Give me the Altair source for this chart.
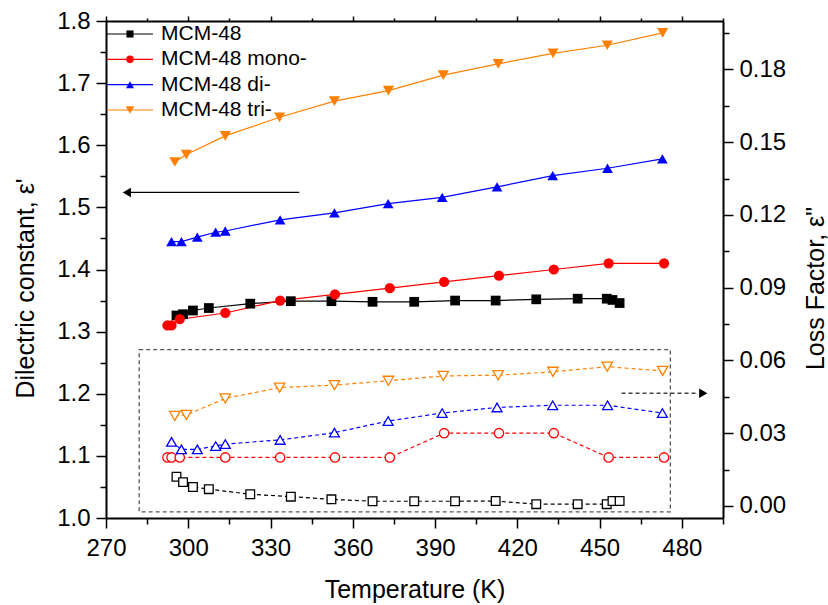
import altair as alt
import pandas as pd

FONT = "Liberation Sans"

series_names = ["MCM-48", "MCM-48 mono-", "MCM-48 di-", "MCM-48 tri-"]
series_colors = ["#000000", "#FF0000", "#0000FF", "#FF8000"]
series_shapes = ["square", "circle", "triangle-up", "triangle-down"]
marker_sizes = [95, 125, 160, 160]
open_sizes = [75, 110, 135, 135]
legend_sizes = [50, 75, 95, 95]

# MCM-48
temp_plain = [295.7, 298.1, 301.7, 307.5, 322.6, 337.4, 352.2, 367.2, 382.4, 397.3,
              412.1, 426.9, 442.0, 452.6, 454.7, 457.3]
eps_plain = [1.326, 1.328, 1.334, 1.338, 1.345, 1.349, 1.349, 1.348, 1.348, 1.350,
             1.350, 1.352, 1.353, 1.353, 1.351, 1.346]
loss_plain = [0.0120, 0.0098, 0.0078, 0.0069, 0.0048, 0.0038, 0.0027, 0.0019, 0.0019, 0.0019,
              0.0020, 0.0007, 0.0007, 0.0007, 0.0020, 0.0020]

# MCM-48 mono-
temp_mono = [292.4, 293.9, 296.9, 313.5, 333.5, 353.5, 373.5, 393.3, 413.3, 433.3, 453.3, 473.5]
eps_mono = [1.31, 1.31, 1.32, 1.33, 1.35, 1.36, 1.37, 1.38, 1.39, 1.40, 1.41, 1.41]
loss_mono = [0.02, 0.02, 0.02, 0.02, 0.02, 0.02, 0.02, 0.03, 0.03, 0.03, 0.02, 0.02]

# MCM-48 di-
temp_di = [293.9, 297.5, 303.3, 310.0, 313.5, 333.5, 353.3, 372.9, 392.6, 412.6, 432.9, 452.9, 472.9]
eps_di = [1.445, 1.445, 1.452, 1.460, 1.462, 1.480, 1.491, 1.506, 1.516, 1.533, 1.551, 1.563, 1.578]
loss_di = [0.0264, 0.0233, 0.0233, 0.0247, 0.0255, 0.0272, 0.0302, 0.0350, 0.0383, 0.0406,
           0.0415, 0.0415, 0.0383]

# MCM-48 tri-
temp_tri = [295.1, 299.3, 313.5, 333.3, 353.3, 373.0, 393.0, 413.0, 433.0, 452.8, 473.0]
eps_tri = [1.573, 1.585, 1.615, 1.645, 1.671, 1.688, 1.713, 1.731, 1.748, 1.761, 1.781]
loss_tri = [0.0371, 0.0375, 0.0443, 0.0488, 0.0498, 0.0516, 0.0536, 0.0539, 0.0553, 0.0574, 0.0557]

# axis ticks
x_ticks = [270, 285, 300, 315, 330, 345, 360, 375, 390, 405, 420, 435, 450, 465, 480, 495]
y_left_ticks = [1.0, 1.05, 1.1, 1.15, 1.2, 1.25, 1.3, 1.35, 1.4, 1.45, 1.5, 1.55, 1.6, 1.65,
                1.7, 1.75, 1.8]
y_right_ticks = [0.0, 0.015, 0.03, 0.045, 0.06, 0.075, 0.09, 0.105, 0.12, 0.135, 0.15,
                 0.165, 0.18, 0.195]

# annotations
box_temp = [282.1, 475.8]
box_eps = [1.010, 1.271]
left_arrow_temp = [340.5, 279.0]
left_arrow_head = [277.6]
left_arrow_eps = [1.524]
right_arrow_temp = [458.0, 486.0]
right_arrow_head = [487.8]
right_arrow_loss = [0.0465]

frames = []
for name, t, e, l in zip(series_names,
                         [temp_plain, temp_mono, temp_di, temp_tri],
                         [eps_plain, eps_mono, eps_di, eps_tri],
                         [loss_plain, loss_mono, loss_di, loss_tri]):
    frames.append(pd.DataFrame({"series": name, "T": t, "eps": e, "loss": l}))
df = pd.concat(frames, ignore_index=True)

xs = alt.Scale(domain=[270, 495], nice=False, zero=False)
ys_left = alt.Scale(domain=[1.0, 1.8], nice=False, zero=False)
ys_right = alt.Scale(domain=[-0.005, 0.2], nice=False, zero=False)
color_scale = alt.Scale(domain=series_names, range=series_colors)
shape_scale = alt.Scale(domain=series_names, range=series_shapes)

common_axis = dict(
    grid=False, domainColor="black", domainWidth=2, tickColor="black", tickWidth=1.5,
    labelFont=FONT, labelFontSize=24, labelColor="black",
    titleFont=FONT, titleFontSize=25, titleFontWeight="normal", titleColor="black",
)

bottom_axis = alt.Axis(
    orient="bottom", values=x_ticks, title="Temperature (K)",
    labelExpr="datum.value % 30 === 0 ? datum.label : ''",
    tickSize={"condition": {"test": "datum.value % 30 === 0", "value": 10}, "value": 6},
    labelPadding=8, titlePadding=17, labelFlush=False, labelOverlap=False, **common_axis)
top_axis = alt.Axis(
    orient="top", values=x_ticks, title=None, labels=False,
    tickSize={"condition": {"test": "datum.value % 30 === 0", "value": 5}, "value": 3},
    **common_axis)
left_axis = alt.Axis(
    orient="left", values=y_left_ticks, title="Dilectric constant, ε'",
    labelExpr="round(datum.value*100) % 10 === 0 ? format(datum.value, '.1f') : ''",
    tickSize={"condition": {"test": "round(datum.value*100) % 10 === 0", "value": 10}, "value": 6},
    labelPadding=6, titlePadding=18, titleY=267, labelFlush=False, labelOverlap=False, **common_axis)
right_axis = alt.Axis(
    orient="right", values=y_right_ticks, title="Loss Factor, ε\"", titleAngle=270,
    titleBaseline="top", titleY=267,
    labelExpr="round(datum.value*1000) % 30 === 0 ? format(datum.value, '.2f') : ''",
    tickSize={"condition": {"test": "round(datum.value*1000) % 30 === 0", "value": 10}, "value": 6},
    labelPadding=6, titlePadding=18, labelFlush=False, labelOverlap=False, **common_axis)

base = alt.Chart(df)
x_none = alt.X("T:Q", scale=xs, axis=None)
col = alt.Color("series:N", scale=color_scale, legend=None)
shp = alt.Shape("series:N", scale=shape_scale, legend=None)

# ---- dielectric constant
eps_lines = base.mark_line(strokeWidth=1.2).encode(
    x=alt.X("T:Q", scale=xs, axis=bottom_axis),
    y=alt.Y("eps:Q", scale=ys_left, axis=left_axis),
    color=col)
eps_points = base.mark_point(filled=True, opacity=1).encode(
    x=x_none, y=alt.Y("eps:Q", scale=ys_left, axis=None), color=col, shape=shp,
    size=alt.Size("series:N", scale=alt.Scale(domain=series_names, range=marker_sizes), legend=None))

box_df = pd.DataFrame({"x1": [box_temp[0]], "x2": [box_temp[1]], "y1": [box_eps[0]], "y2": [box_eps[1]]})
box = alt.Chart(box_df).mark_rect(fillOpacity=0, stroke="#555555", strokeDash=[4, 3], strokeWidth=1.3).encode(
    x=alt.X("x1:Q", scale=xs, axis=None), x2="x2:Q",
    y=alt.Y("y1:Q", scale=ys_left, axis=None), y2="y2:Q")

la_df = pd.DataFrame({"x1": [left_arrow_temp[0]], "x2": [left_arrow_temp[1]], "y": left_arrow_eps,
                      "hx": left_arrow_head})
la_line = alt.Chart(la_df).mark_rule(color="black", strokeWidth=1.2).encode(
    x=alt.X("x1:Q", scale=xs, axis=None), x2="x2:Q",
    y=alt.Y("y:Q", scale=ys_left, axis=None))
la_head = alt.Chart(la_df).mark_point(shape="triangle-left", filled=True, color="black", size=90, opacity=1).encode(
    x=alt.X("hx:Q", scale=xs, axis=None), y=alt.Y("y:Q", scale=ys_left, axis=None))

# ---- loss factor
loss_lines = base.mark_line(strokeWidth=1.2, strokeDash=[4, 3]).encode(
    x=x_none, y=alt.Y("loss:Q", scale=ys_right, axis=right_axis), color=col)
loss_points = base.mark_point(filled=True, fill="white", strokeWidth=1.3, opacity=1).encode(
    x=x_none, y=alt.Y("loss:Q", scale=ys_right, axis=None),
    stroke=alt.Stroke("series:N", scale=color_scale, legend=None), shape=shp,
    size=alt.Size("series:N", scale=alt.Scale(domain=series_names, range=open_sizes), legend=None))

ra_df = pd.DataFrame({"x1": [right_arrow_temp[0]], "x2": [right_arrow_temp[1]], "y": right_arrow_loss,
                      "hx": right_arrow_head})
ra_line = alt.Chart(ra_df).mark_rule(color="#444444", strokeWidth=1.5, strokeDash=[4, 3]).encode(
    x=alt.X("x1:Q", scale=xs, axis=None), x2="x2:Q",
    y=alt.Y("y:Q", scale=ys_right, axis=None))
ra_head = alt.Chart(ra_df).mark_point(shape="triangle-right", filled=True, color="black", size=90, opacity=1).encode(
    x=alt.X("hx:Q", scale=xs, axis=None), y=alt.Y("y:Q", scale=ys_right, axis=None))

# ---- legend
leg_df = pd.DataFrame({"series": series_names})
leg_y = alt.Y("series:N", scale=alt.Scale(type="point", domain=series_names, range=[13, 89], padding=0), axis=None)
leg = alt.Chart(leg_df)
leg_lines = leg.mark_rule(strokeWidth=1.2).encode(
    x=alt.value(1), x2=alt.value(47), y=leg_y, color=col)
leg_pts = leg.mark_point(filled=True, opacity=1).encode(
    x=alt.value(24), y=leg_y, color=col, shape=shp,
    size=alt.Size("series:N", scale=alt.Scale(domain=series_names, range=legend_sizes), legend=None))
leg_text = leg.mark_text(align="left", baseline="middle", font=FONT, fontSize=21, color="black").encode(
    x=alt.value(55), y=leg_y, text="series:N")

# ---- top axis
top_layer = base.mark_point(opacity=0).encode(x=alt.X("T:Q", scale=xs, axis=top_axis))

chart = alt.layer(
    eps_lines, loss_lines, box, eps_points, la_line, la_head,
    loss_points, ra_line, ra_head, leg_lines, leg_pts, leg_text, top_layer
).resolve_scale(
    y="independent", size="independent"
).resolve_axis(x="independent", y="independent").properties(
    width=617, height=497,
    autosize=alt.AutoSizeParams(type="none"),
    padding={"left": 106, "top": 21, "right": 105, "bottom": 87},
).configure_view(stroke=None)

chart.save("out.html", embed_options={"renderer": "svg", "actions": False})
